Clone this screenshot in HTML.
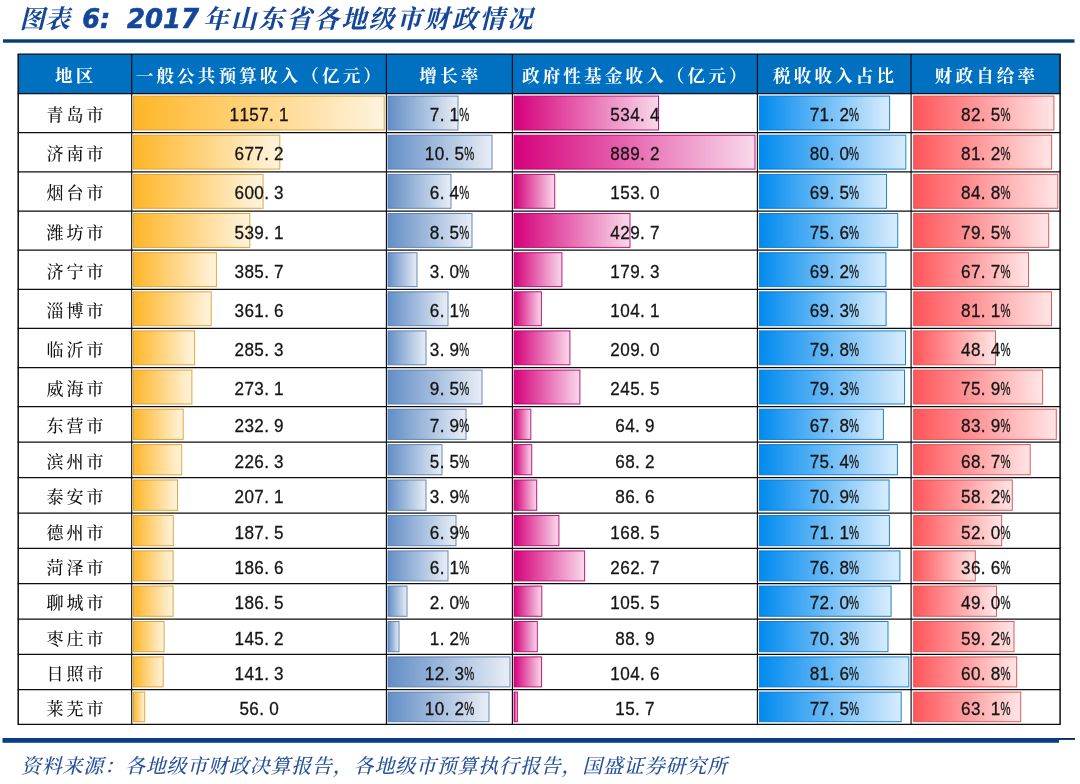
<!DOCTYPE html>
<html lang="zh-CN"><head><meta charset="utf-8"><title>图表 6: 2017 年山东省各地级市财政情况</title>
<style>
html,body{margin:0;padding:0;background:#fff}
body{width:1080px;height:784px;overflow:hidden}
svg{display:block}
.kai{font-family:"Liberation Serif","Noto Serif CJK SC",serif}
.num{font-family:"Liberation Sans","Noto Sans CJK SC",sans-serif;font-size:18.2px;fill:#151515;stroke:#151515;stroke-width:0.3px}
.hd{font-family:"Liberation Serif","Noto Serif CJK SC",serif;font-weight:700;font-size:17.6px;fill:#fff;letter-spacing:3.1px}
.rg{font-family:"Liberation Serif","Noto Serif CJK SC",serif;font-weight:500;font-size:17px;fill:#111;letter-spacing:3px}
</style></head><body>
<svg width="1080" height="784" viewBox="0 0 1080 784">
<defs>
<linearGradient id="go" x1="0" y1="0" x2="1" y2="0"><stop offset="0" stop-color="#FFB628"/><stop offset="1" stop-color="#fff4df"/></linearGradient>
<linearGradient id="gb" x1="0" y1="0" x2="1" y2="0"><stop offset="0" stop-color="#638EC6"/><stop offset="1" stop-color="#e8eef6"/></linearGradient>
<linearGradient id="gp" x1="0" y1="0" x2="1" y2="0"><stop offset="0" stop-color="#D6007B"/><stop offset="1" stop-color="#f9d9eb"/></linearGradient>
<linearGradient id="gl" x1="0" y1="0" x2="1" y2="0"><stop offset="0" stop-color="#008AEF"/><stop offset="1" stop-color="#d9edfd"/></linearGradient>
<linearGradient id="gr" x1="0" y1="0" x2="1" y2="0"><stop offset="0" stop-color="#FF555A"/><stop offset="1" stop-color="#ffe6e6"/></linearGradient>
</defs>
<rect x="0" y="0" width="1080" height="784" fill="#fff"/>
<g fill="#14479a" font-style="italic" font-weight="700">
<text x="19.5" y="28.2" font-size="25.5" font-family="'Liberation Serif','Noto Serif CJK SC',serif" textLength="50.5" lengthAdjust="spacingAndGlyphs">图表</text>
<text x="82.3" y="28.0" font-size="26.4" stroke="#14479a" stroke-width="0.6" font-family="'DejaVu Sans','Liberation Sans',sans-serif" textLength="28" lengthAdjust="spacingAndGlyphs">6:</text>
<text x="127" y="28.0" font-size="26.4" stroke="#14479a" stroke-width="0.6" font-family="'DejaVu Sans','Liberation Sans',sans-serif" textLength="72" lengthAdjust="spacingAndGlyphs">2017</text>
<text x="203" y="28.2" font-size="25.5" font-family="'Liberation Serif','Noto Serif CJK SC',serif" textLength="329.5" lengthAdjust="spacing">年山东省各地级市财政情况</text>
</g>
<rect x="3" y="39.3" width="1071.5" height="3.4" fill="#083a7a"/>
<rect x="18.2" y="54.1" width="1041.8999999999999" height="39.49999999999999" fill="#0070C0"/>
<text class="hd" x="75.8" y="81.8" text-anchor="middle">地区</text>
<text class="hd" x="259.9" y="81.8" text-anchor="middle">一般公共预算收入（亿元）</text>
<text class="hd" x="450.3" y="81.8" text-anchor="middle">增长率</text>
<text class="hd" x="635.8" y="81.8" text-anchor="middle">政府性基金收入（亿元）</text>
<text class="hd" x="835.1" y="81.8" text-anchor="middle">税收收入占比</text>
<text class="hd" x="986.5" y="81.8" text-anchor="middle">财政自给率</text>
<rect x="133.5" y="96.1" width="250.7" height="33.9" fill="url(#go)" stroke="#de9e23" stroke-opacity="0.9" stroke-width="1"/>
<rect x="388.0" y="96.1" width="70.0" height="33.9" fill="url(#gb)" stroke="#567cac" stroke-opacity="0.9" stroke-width="1"/>
<rect x="514.1" y="96.1" width="144.4" height="33.9" fill="url(#gp)" stroke="#ba006b" stroke-opacity="0.9" stroke-width="1"/>
<rect x="759.4" y="96.1" width="130.2" height="33.9" fill="url(#gl)" stroke="#0078d0" stroke-opacity="0.9" stroke-width="1"/>
<rect x="913.7" y="96.1" width="140.2" height="33.9" fill="url(#gr)" stroke="#de4a4e" stroke-opacity="0.9" stroke-width="1"/>
<rect x="133.5" y="135.2" width="146.3" height="33.9" fill="url(#go)" stroke="#de9e23" stroke-opacity="0.9" stroke-width="1"/>
<rect x="388.0" y="135.2" width="104.0" height="33.9" fill="url(#gb)" stroke="#567cac" stroke-opacity="0.9" stroke-width="1"/>
<rect x="514.1" y="135.2" width="240.9" height="33.9" fill="url(#gp)" stroke="#ba006b" stroke-opacity="0.9" stroke-width="1"/>
<rect x="759.4" y="135.2" width="146.4" height="33.9" fill="url(#gl)" stroke="#0078d0" stroke-opacity="0.9" stroke-width="1"/>
<rect x="913.7" y="135.2" width="137.9" height="33.9" fill="url(#gr)" stroke="#de4a4e" stroke-opacity="0.9" stroke-width="1"/>
<rect x="133.5" y="174.4" width="129.6" height="33.9" fill="url(#go)" stroke="#de9e23" stroke-opacity="0.9" stroke-width="1"/>
<rect x="388.0" y="174.4" width="63.0" height="33.9" fill="url(#gb)" stroke="#567cac" stroke-opacity="0.9" stroke-width="1"/>
<rect x="514.1" y="174.4" width="40.6" height="33.9" fill="url(#gp)" stroke="#ba006b" stroke-opacity="0.9" stroke-width="1"/>
<rect x="759.4" y="174.4" width="127.1" height="33.9" fill="url(#gl)" stroke="#0078d0" stroke-opacity="0.9" stroke-width="1"/>
<rect x="913.7" y="174.4" width="144.1" height="33.9" fill="url(#gr)" stroke="#de4a4e" stroke-opacity="0.9" stroke-width="1"/>
<rect x="133.5" y="213.5" width="116.3" height="33.9" fill="url(#go)" stroke="#de9e23" stroke-opacity="0.9" stroke-width="1"/>
<rect x="388.0" y="213.5" width="84.0" height="33.9" fill="url(#gb)" stroke="#567cac" stroke-opacity="0.9" stroke-width="1"/>
<rect x="514.1" y="213.5" width="115.9" height="33.9" fill="url(#gp)" stroke="#ba006b" stroke-opacity="0.9" stroke-width="1"/>
<rect x="759.4" y="213.5" width="138.3" height="33.9" fill="url(#gl)" stroke="#0078d0" stroke-opacity="0.9" stroke-width="1"/>
<rect x="913.7" y="213.5" width="135.0" height="33.9" fill="url(#gr)" stroke="#de4a4e" stroke-opacity="0.9" stroke-width="1"/>
<rect x="133.5" y="252.7" width="82.9" height="33.9" fill="url(#go)" stroke="#de9e23" stroke-opacity="0.9" stroke-width="1"/>
<rect x="388.0" y="252.7" width="29.0" height="33.9" fill="url(#gb)" stroke="#567cac" stroke-opacity="0.9" stroke-width="1"/>
<rect x="514.1" y="252.7" width="47.8" height="33.9" fill="url(#gp)" stroke="#ba006b" stroke-opacity="0.9" stroke-width="1"/>
<rect x="759.4" y="252.7" width="126.5" height="33.9" fill="url(#gl)" stroke="#0078d0" stroke-opacity="0.9" stroke-width="1"/>
<rect x="913.7" y="252.7" width="114.8" height="33.9" fill="url(#gr)" stroke="#de4a4e" stroke-opacity="0.9" stroke-width="1"/>
<rect x="133.5" y="291.8" width="77.7" height="33.9" fill="url(#go)" stroke="#de9e23" stroke-opacity="0.9" stroke-width="1"/>
<rect x="388.0" y="291.8" width="60.0" height="33.9" fill="url(#gb)" stroke="#567cac" stroke-opacity="0.9" stroke-width="1"/>
<rect x="514.1" y="291.8" width="27.3" height="33.9" fill="url(#gp)" stroke="#ba006b" stroke-opacity="0.9" stroke-width="1"/>
<rect x="759.4" y="291.8" width="126.7" height="33.9" fill="url(#gl)" stroke="#0078d0" stroke-opacity="0.9" stroke-width="1"/>
<rect x="913.7" y="291.8" width="137.8" height="33.9" fill="url(#gr)" stroke="#de4a4e" stroke-opacity="0.9" stroke-width="1"/>
<rect x="133.5" y="330.9" width="61.1" height="33.9" fill="url(#go)" stroke="#de9e23" stroke-opacity="0.9" stroke-width="1"/>
<rect x="388.0" y="330.9" width="38.0" height="33.9" fill="url(#gb)" stroke="#567cac" stroke-opacity="0.9" stroke-width="1"/>
<rect x="514.1" y="330.9" width="55.8" height="33.9" fill="url(#gp)" stroke="#ba006b" stroke-opacity="0.9" stroke-width="1"/>
<rect x="759.4" y="330.9" width="146.1" height="33.9" fill="url(#gl)" stroke="#0078d0" stroke-opacity="0.9" stroke-width="1"/>
<rect x="913.7" y="330.9" width="81.8" height="33.9" fill="url(#gr)" stroke="#de4a4e" stroke-opacity="0.9" stroke-width="1"/>
<rect x="133.5" y="370.1" width="58.4" height="33.9" fill="url(#go)" stroke="#de9e23" stroke-opacity="0.9" stroke-width="1"/>
<rect x="388.0" y="370.1" width="94.0" height="33.9" fill="url(#gb)" stroke="#567cac" stroke-opacity="0.9" stroke-width="1"/>
<rect x="514.1" y="370.1" width="65.8" height="33.9" fill="url(#gp)" stroke="#ba006b" stroke-opacity="0.9" stroke-width="1"/>
<rect x="759.4" y="370.1" width="145.1" height="33.9" fill="url(#gl)" stroke="#0078d0" stroke-opacity="0.9" stroke-width="1"/>
<rect x="913.7" y="370.1" width="128.9" height="33.9" fill="url(#gr)" stroke="#de4a4e" stroke-opacity="0.9" stroke-width="1"/>
<rect x="133.5" y="409.2" width="49.7" height="30.2" fill="url(#go)" stroke="#de9e23" stroke-opacity="0.9" stroke-width="1"/>
<rect x="388.0" y="409.2" width="78.0" height="30.2" fill="url(#gb)" stroke="#567cac" stroke-opacity="0.9" stroke-width="1"/>
<rect x="514.1" y="409.2" width="16.7" height="30.2" fill="url(#gp)" stroke="#ba006b" stroke-opacity="0.9" stroke-width="1"/>
<rect x="759.4" y="409.2" width="124.0" height="30.2" fill="url(#gl)" stroke="#0078d0" stroke-opacity="0.9" stroke-width="1"/>
<rect x="913.7" y="409.2" width="142.6" height="30.2" fill="url(#gr)" stroke="#de4a4e" stroke-opacity="0.9" stroke-width="1"/>
<rect x="133.5" y="444.6" width="48.2" height="30.2" fill="url(#go)" stroke="#de9e23" stroke-opacity="0.9" stroke-width="1"/>
<rect x="388.0" y="444.6" width="54.0" height="30.2" fill="url(#gb)" stroke="#567cac" stroke-opacity="0.9" stroke-width="1"/>
<rect x="514.1" y="444.6" width="17.6" height="30.2" fill="url(#gp)" stroke="#ba006b" stroke-opacity="0.9" stroke-width="1"/>
<rect x="759.4" y="444.6" width="138.0" height="30.2" fill="url(#gl)" stroke="#0078d0" stroke-opacity="0.9" stroke-width="1"/>
<rect x="913.7" y="444.6" width="116.5" height="30.2" fill="url(#gr)" stroke="#de4a4e" stroke-opacity="0.9" stroke-width="1"/>
<rect x="133.5" y="480.0" width="44.0" height="30.3" fill="url(#go)" stroke="#de9e23" stroke-opacity="0.9" stroke-width="1"/>
<rect x="388.0" y="480.0" width="38.0" height="30.3" fill="url(#gb)" stroke="#567cac" stroke-opacity="0.9" stroke-width="1"/>
<rect x="514.1" y="480.0" width="22.6" height="30.3" fill="url(#gp)" stroke="#ba006b" stroke-opacity="0.9" stroke-width="1"/>
<rect x="759.4" y="480.0" width="129.7" height="30.3" fill="url(#gl)" stroke="#0078d0" stroke-opacity="0.9" stroke-width="1"/>
<rect x="913.7" y="480.0" width="98.6" height="30.3" fill="url(#gr)" stroke="#de4a4e" stroke-opacity="0.9" stroke-width="1"/>
<rect x="133.5" y="515.5" width="39.8" height="30.2" fill="url(#go)" stroke="#de9e23" stroke-opacity="0.9" stroke-width="1"/>
<rect x="388.0" y="515.5" width="68.0" height="30.2" fill="url(#gb)" stroke="#567cac" stroke-opacity="0.9" stroke-width="1"/>
<rect x="514.1" y="515.5" width="44.8" height="30.2" fill="url(#gp)" stroke="#ba006b" stroke-opacity="0.9" stroke-width="1"/>
<rect x="759.4" y="515.5" width="130.0" height="30.2" fill="url(#gl)" stroke="#0078d0" stroke-opacity="0.9" stroke-width="1"/>
<rect x="913.7" y="515.5" width="88.0" height="30.2" fill="url(#gr)" stroke="#de4a4e" stroke-opacity="0.9" stroke-width="1"/>
<rect x="133.5" y="550.9" width="39.6" height="30.0" fill="url(#go)" stroke="#de9e23" stroke-opacity="0.9" stroke-width="1"/>
<rect x="388.0" y="550.9" width="60.0" height="30.0" fill="url(#gb)" stroke="#567cac" stroke-opacity="0.9" stroke-width="1"/>
<rect x="514.1" y="550.9" width="70.5" height="30.0" fill="url(#gp)" stroke="#ba006b" stroke-opacity="0.9" stroke-width="1"/>
<rect x="759.4" y="550.9" width="140.5" height="30.0" fill="url(#gl)" stroke="#0078d0" stroke-opacity="0.9" stroke-width="1"/>
<rect x="913.7" y="550.9" width="61.6" height="30.0" fill="url(#gr)" stroke="#de4a4e" stroke-opacity="0.9" stroke-width="1"/>
<rect x="133.5" y="586.1" width="39.6" height="30.2" fill="url(#go)" stroke="#de9e23" stroke-opacity="0.9" stroke-width="1"/>
<rect x="388.0" y="586.1" width="19.0" height="30.2" fill="url(#gb)" stroke="#567cac" stroke-opacity="0.9" stroke-width="1"/>
<rect x="514.1" y="586.1" width="27.7" height="30.2" fill="url(#gp)" stroke="#ba006b" stroke-opacity="0.9" stroke-width="1"/>
<rect x="759.4" y="586.1" width="131.7" height="30.2" fill="url(#gl)" stroke="#0078d0" stroke-opacity="0.9" stroke-width="1"/>
<rect x="913.7" y="586.1" width="82.8" height="30.2" fill="url(#gr)" stroke="#de4a4e" stroke-opacity="0.9" stroke-width="1"/>
<rect x="133.5" y="621.5" width="30.6" height="30.2" fill="url(#go)" stroke="#de9e23" stroke-opacity="0.9" stroke-width="1"/>
<rect x="388.0" y="621.5" width="11.0" height="30.2" fill="url(#gb)" stroke="#567cac" stroke-opacity="0.9" stroke-width="1"/>
<rect x="514.1" y="621.5" width="23.2" height="30.2" fill="url(#gp)" stroke="#ba006b" stroke-opacity="0.9" stroke-width="1"/>
<rect x="759.4" y="621.5" width="128.6" height="30.2" fill="url(#gl)" stroke="#0078d0" stroke-opacity="0.9" stroke-width="1"/>
<rect x="913.7" y="621.5" width="100.3" height="30.2" fill="url(#gr)" stroke="#de4a4e" stroke-opacity="0.9" stroke-width="1"/>
<rect x="133.5" y="656.9" width="29.7" height="30.0" fill="url(#go)" stroke="#de9e23" stroke-opacity="0.9" stroke-width="1"/>
<rect x="388.0" y="656.9" width="122.0" height="30.0" fill="url(#gb)" stroke="#567cac" stroke-opacity="0.9" stroke-width="1"/>
<rect x="514.1" y="656.9" width="27.5" height="30.0" fill="url(#gp)" stroke="#ba006b" stroke-opacity="0.9" stroke-width="1"/>
<rect x="759.4" y="656.9" width="149.4" height="30.0" fill="url(#gl)" stroke="#0078d0" stroke-opacity="0.9" stroke-width="1"/>
<rect x="913.7" y="656.9" width="103.0" height="30.0" fill="url(#gr)" stroke="#de4a4e" stroke-opacity="0.9" stroke-width="1"/>
<rect x="133.5" y="692.1" width="11.2" height="29.6" fill="url(#go)" stroke="#de9e23" stroke-opacity="0.9" stroke-width="1"/>
<rect x="388.0" y="692.1" width="101.0" height="29.6" fill="url(#gb)" stroke="#567cac" stroke-opacity="0.9" stroke-width="1"/>
<rect x="514.1" y="692.1" width="3.3" height="29.6" fill="url(#gp)" stroke="#ba006b" stroke-opacity="0.9" stroke-width="1"/>
<rect x="759.4" y="692.1" width="141.8" height="29.6" fill="url(#gl)" stroke="#0078d0" stroke-opacity="0.9" stroke-width="1"/>
<rect x="913.7" y="692.1" width="107.0" height="29.6" fill="url(#gr)" stroke="#de4a4e" stroke-opacity="0.9" stroke-width="1"/>
<g stroke="#0c0c12" stroke-width="1.25" fill="none">
<line x1="17.7" y1="54.10" x2="1060.6" y2="54.10"/>
<line x1="17.7" y1="93.60" x2="1060.6" y2="93.60"/>
<line x1="17.7" y1="132.74" x2="1060.6" y2="132.74"/>
<line x1="17.7" y1="171.88" x2="1060.6" y2="171.88"/>
<line x1="17.7" y1="211.02" x2="1060.6" y2="211.02"/>
<line x1="17.7" y1="250.16" x2="1060.6" y2="250.16"/>
<line x1="17.7" y1="289.30" x2="1060.6" y2="289.30"/>
<line x1="17.7" y1="328.44" x2="1060.6" y2="328.44"/>
<line x1="17.7" y1="367.58" x2="1060.6" y2="367.58"/>
<line x1="17.7" y1="406.72" x2="1060.6" y2="406.72"/>
<line x1="17.7" y1="442.10" x2="1060.6" y2="442.10"/>
<line x1="17.7" y1="477.50" x2="1060.6" y2="477.50"/>
<line x1="17.7" y1="513.00" x2="1060.6" y2="513.00"/>
<line x1="17.7" y1="548.40" x2="1060.6" y2="548.40"/>
<line x1="17.7" y1="583.60" x2="1060.6" y2="583.60"/>
<line x1="17.7" y1="619.00" x2="1060.6" y2="619.00"/>
<line x1="17.7" y1="654.40" x2="1060.6" y2="654.40"/>
<line x1="17.7" y1="689.60" x2="1060.6" y2="689.60"/>
<line x1="17.7" y1="724.40" x2="1060.6" y2="724.40"/>
</g>
<g stroke="#0c0c12" fill="none">
<line x1="18.2" y1="54.1" x2="18.2" y2="724.40" stroke-width="1.5"/>
<line x1="131.7" y1="54.1" x2="131.7" y2="724.40" stroke-width="1.15"/>
<line x1="386.4" y1="54.1" x2="386.4" y2="724.40" stroke-width="1.15"/>
<line x1="512.4" y1="54.1" x2="512.4" y2="724.40" stroke-width="1.15"/>
<line x1="757.4" y1="54.1" x2="757.4" y2="724.40" stroke-width="1.15"/>
<line x1="911.1" y1="54.1" x2="911.1" y2="724.40" stroke-width="1.15"/>
<line x1="1060.1" y1="54.1" x2="1060.1" y2="724.40" stroke-width="1.5"/>
</g>
<text class="rg" x="76.4" y="121.2" text-anchor="middle">青岛市</text>
<text class="num" transform="translate(259.05,121.1) scale(0.94,1)" x="-26.33 -15.80 -5.27 5.27 13.24 26.33" y="0" text-anchor="middle">1157.1</text>
<text class="num" transform="translate(449.40,121.1) scale(0.94,1)" x="-15.80 -7.82 5.27" y="0" text-anchor="middle">7.1</text><text class="num" transform="translate(464.25,121.1) scale(0.62,1)" x="0" y="0" text-anchor="middle">%</text>
<text class="num" transform="translate(634.90,121.1) scale(0.94,1)" x="-21.06 -10.53 0.00 7.98 21.06" y="0" text-anchor="middle">534.4</text>
<text class="num" transform="translate(834.25,121.1) scale(0.94,1)" x="-21.06 -10.53 -2.55 10.53" y="0" text-anchor="middle">71.2</text><text class="num" transform="translate(854.05,121.1) scale(0.62,1)" x="0" y="0" text-anchor="middle">%</text>
<text class="num" transform="translate(985.60,121.1) scale(0.94,1)" x="-21.06 -10.53 -2.55 10.53" y="0" text-anchor="middle">82.5</text><text class="num" transform="translate(1005.40,121.1) scale(0.62,1)" x="0" y="0" text-anchor="middle">%</text>
<text class="rg" x="76.4" y="160.3" text-anchor="middle">济南市</text>
<text class="num" transform="translate(259.05,160.2) scale(0.94,1)" x="-21.06 -10.53 0.00 7.98 21.06" y="0" text-anchor="middle">677.2</text>
<text class="num" transform="translate(449.40,160.2) scale(0.94,1)" x="-21.06 -10.53 -2.55 10.53" y="0" text-anchor="middle">10.5</text><text class="num" transform="translate(469.20,160.2) scale(0.62,1)" x="0" y="0" text-anchor="middle">%</text>
<text class="num" transform="translate(634.90,160.2) scale(0.94,1)" x="-21.06 -10.53 0.00 7.98 21.06" y="0" text-anchor="middle">889.2</text>
<text class="num" transform="translate(834.25,160.2) scale(0.94,1)" x="-21.06 -10.53 -2.55 10.53" y="0" text-anchor="middle">80.0</text><text class="num" transform="translate(854.05,160.2) scale(0.62,1)" x="0" y="0" text-anchor="middle">%</text>
<text class="num" transform="translate(985.60,160.2) scale(0.94,1)" x="-21.06 -10.53 -2.55 10.53" y="0" text-anchor="middle">81.2</text><text class="num" transform="translate(1005.40,160.2) scale(0.62,1)" x="0" y="0" text-anchor="middle">%</text>
<text class="rg" x="76.4" y="199.4" text-anchor="middle">烟台市</text>
<text class="num" transform="translate(259.05,199.3) scale(0.94,1)" x="-21.06 -10.53 0.00 7.98 21.06" y="0" text-anchor="middle">600.3</text>
<text class="num" transform="translate(449.40,199.3) scale(0.94,1)" x="-15.80 -7.82 5.27" y="0" text-anchor="middle">6.4</text><text class="num" transform="translate(464.25,199.3) scale(0.62,1)" x="0" y="0" text-anchor="middle">%</text>
<text class="num" transform="translate(634.90,199.3) scale(0.94,1)" x="-21.06 -10.53 0.00 7.98 21.06" y="0" text-anchor="middle">153.0</text>
<text class="num" transform="translate(834.25,199.3) scale(0.94,1)" x="-21.06 -10.53 -2.55 10.53" y="0" text-anchor="middle">69.5</text><text class="num" transform="translate(854.05,199.3) scale(0.62,1)" x="0" y="0" text-anchor="middle">%</text>
<text class="num" transform="translate(985.60,199.3) scale(0.94,1)" x="-21.06 -10.53 -2.55 10.53" y="0" text-anchor="middle">84.8</text><text class="num" transform="translate(1005.40,199.3) scale(0.62,1)" x="0" y="0" text-anchor="middle">%</text>
<text class="rg" x="76.4" y="238.6" text-anchor="middle">潍坊市</text>
<text class="num" transform="translate(259.05,238.5) scale(0.94,1)" x="-21.06 -10.53 0.00 7.98 21.06" y="0" text-anchor="middle">539.1</text>
<text class="num" transform="translate(449.40,238.5) scale(0.94,1)" x="-15.80 -7.82 5.27" y="0" text-anchor="middle">8.5</text><text class="num" transform="translate(464.25,238.5) scale(0.62,1)" x="0" y="0" text-anchor="middle">%</text>
<text class="num" transform="translate(634.90,238.5) scale(0.94,1)" x="-21.06 -10.53 0.00 7.98 21.06" y="0" text-anchor="middle">429.7</text>
<text class="num" transform="translate(834.25,238.5) scale(0.94,1)" x="-21.06 -10.53 -2.55 10.53" y="0" text-anchor="middle">75.6</text><text class="num" transform="translate(854.05,238.5) scale(0.62,1)" x="0" y="0" text-anchor="middle">%</text>
<text class="num" transform="translate(985.60,238.5) scale(0.94,1)" x="-21.06 -10.53 -2.55 10.53" y="0" text-anchor="middle">79.5</text><text class="num" transform="translate(1005.40,238.5) scale(0.62,1)" x="0" y="0" text-anchor="middle">%</text>
<text class="rg" x="76.4" y="277.7" text-anchor="middle">济宁市</text>
<text class="num" transform="translate(259.05,277.6) scale(0.94,1)" x="-21.06 -10.53 0.00 7.98 21.06" y="0" text-anchor="middle">385.7</text>
<text class="num" transform="translate(449.40,277.6) scale(0.94,1)" x="-15.80 -7.82 5.27" y="0" text-anchor="middle">3.0</text><text class="num" transform="translate(464.25,277.6) scale(0.62,1)" x="0" y="0" text-anchor="middle">%</text>
<text class="num" transform="translate(634.90,277.6) scale(0.94,1)" x="-21.06 -10.53 0.00 7.98 21.06" y="0" text-anchor="middle">179.3</text>
<text class="num" transform="translate(834.25,277.6) scale(0.94,1)" x="-21.06 -10.53 -2.55 10.53" y="0" text-anchor="middle">69.2</text><text class="num" transform="translate(854.05,277.6) scale(0.62,1)" x="0" y="0" text-anchor="middle">%</text>
<text class="num" transform="translate(985.60,277.6) scale(0.94,1)" x="-21.06 -10.53 -2.55 10.53" y="0" text-anchor="middle">67.7</text><text class="num" transform="translate(1005.40,277.6) scale(0.62,1)" x="0" y="0" text-anchor="middle">%</text>
<text class="rg" x="76.4" y="316.9" text-anchor="middle">淄博市</text>
<text class="num" transform="translate(259.05,316.8) scale(0.94,1)" x="-21.06 -10.53 0.00 7.98 21.06" y="0" text-anchor="middle">361.6</text>
<text class="num" transform="translate(449.40,316.8) scale(0.94,1)" x="-15.80 -7.82 5.27" y="0" text-anchor="middle">6.1</text><text class="num" transform="translate(464.25,316.8) scale(0.62,1)" x="0" y="0" text-anchor="middle">%</text>
<text class="num" transform="translate(634.90,316.8) scale(0.94,1)" x="-21.06 -10.53 0.00 7.98 21.06" y="0" text-anchor="middle">104.1</text>
<text class="num" transform="translate(834.25,316.8) scale(0.94,1)" x="-21.06 -10.53 -2.55 10.53" y="0" text-anchor="middle">69.3</text><text class="num" transform="translate(854.05,316.8) scale(0.62,1)" x="0" y="0" text-anchor="middle">%</text>
<text class="num" transform="translate(985.60,316.8) scale(0.94,1)" x="-21.06 -10.53 -2.55 10.53" y="0" text-anchor="middle">81.1</text><text class="num" transform="translate(1005.40,316.8) scale(0.62,1)" x="0" y="0" text-anchor="middle">%</text>
<text class="rg" x="76.4" y="356.0" text-anchor="middle">临沂市</text>
<text class="num" transform="translate(259.05,355.9) scale(0.94,1)" x="-21.06 -10.53 0.00 7.98 21.06" y="0" text-anchor="middle">285.3</text>
<text class="num" transform="translate(449.40,355.9) scale(0.94,1)" x="-15.80 -7.82 5.27" y="0" text-anchor="middle">3.9</text><text class="num" transform="translate(464.25,355.9) scale(0.62,1)" x="0" y="0" text-anchor="middle">%</text>
<text class="num" transform="translate(634.90,355.9) scale(0.94,1)" x="-21.06 -10.53 0.00 7.98 21.06" y="0" text-anchor="middle">209.0</text>
<text class="num" transform="translate(834.25,355.9) scale(0.94,1)" x="-21.06 -10.53 -2.55 10.53" y="0" text-anchor="middle">79.8</text><text class="num" transform="translate(854.05,355.9) scale(0.62,1)" x="0" y="0" text-anchor="middle">%</text>
<text class="num" transform="translate(985.60,355.9) scale(0.94,1)" x="-21.06 -10.53 -2.55 10.53" y="0" text-anchor="middle">48.4</text><text class="num" transform="translate(1005.40,355.9) scale(0.62,1)" x="0" y="0" text-anchor="middle">%</text>
<text class="rg" x="76.4" y="395.2" text-anchor="middle">威海市</text>
<text class="num" transform="translate(259.05,395.1) scale(0.94,1)" x="-21.06 -10.53 0.00 7.98 21.06" y="0" text-anchor="middle">273.1</text>
<text class="num" transform="translate(449.40,395.1) scale(0.94,1)" x="-15.80 -7.82 5.27" y="0" text-anchor="middle">9.5</text><text class="num" transform="translate(464.25,395.1) scale(0.62,1)" x="0" y="0" text-anchor="middle">%</text>
<text class="num" transform="translate(634.90,395.1) scale(0.94,1)" x="-21.06 -10.53 0.00 7.98 21.06" y="0" text-anchor="middle">245.5</text>
<text class="num" transform="translate(834.25,395.1) scale(0.94,1)" x="-21.06 -10.53 -2.55 10.53" y="0" text-anchor="middle">79.3</text><text class="num" transform="translate(854.05,395.1) scale(0.62,1)" x="0" y="0" text-anchor="middle">%</text>
<text class="num" transform="translate(985.60,395.1) scale(0.94,1)" x="-21.06 -10.53 -2.55 10.53" y="0" text-anchor="middle">75.9</text><text class="num" transform="translate(1005.40,395.1) scale(0.62,1)" x="0" y="0" text-anchor="middle">%</text>
<text class="rg" x="76.4" y="432.4" text-anchor="middle">东营市</text>
<text class="num" transform="translate(259.05,432.3) scale(0.94,1)" x="-21.06 -10.53 0.00 7.98 21.06" y="0" text-anchor="middle">232.9</text>
<text class="num" transform="translate(449.40,432.3) scale(0.94,1)" x="-15.80 -7.82 5.27" y="0" text-anchor="middle">7.9</text><text class="num" transform="translate(464.25,432.3) scale(0.62,1)" x="0" y="0" text-anchor="middle">%</text>
<text class="num" transform="translate(634.90,432.3) scale(0.94,1)" x="-15.80 -5.27 2.71 15.80" y="0" text-anchor="middle">64.9</text>
<text class="num" transform="translate(834.25,432.3) scale(0.94,1)" x="-21.06 -10.53 -2.55 10.53" y="0" text-anchor="middle">67.8</text><text class="num" transform="translate(854.05,432.3) scale(0.62,1)" x="0" y="0" text-anchor="middle">%</text>
<text class="num" transform="translate(985.60,432.3) scale(0.94,1)" x="-21.06 -10.53 -2.55 10.53" y="0" text-anchor="middle">83.9</text><text class="num" transform="translate(1005.40,432.3) scale(0.62,1)" x="0" y="0" text-anchor="middle">%</text>
<text class="rg" x="76.4" y="467.8" text-anchor="middle">滨州市</text>
<text class="num" transform="translate(259.05,467.7) scale(0.94,1)" x="-21.06 -10.53 0.00 7.98 21.06" y="0" text-anchor="middle">226.3</text>
<text class="num" transform="translate(449.40,467.7) scale(0.94,1)" x="-15.80 -7.82 5.27" y="0" text-anchor="middle">5.5</text><text class="num" transform="translate(464.25,467.7) scale(0.62,1)" x="0" y="0" text-anchor="middle">%</text>
<text class="num" transform="translate(634.90,467.7) scale(0.94,1)" x="-15.80 -5.27 2.71 15.80" y="0" text-anchor="middle">68.2</text>
<text class="num" transform="translate(834.25,467.7) scale(0.94,1)" x="-21.06 -10.53 -2.55 10.53" y="0" text-anchor="middle">75.4</text><text class="num" transform="translate(854.05,467.7) scale(0.62,1)" x="0" y="0" text-anchor="middle">%</text>
<text class="num" transform="translate(985.60,467.7) scale(0.94,1)" x="-21.06 -10.53 -2.55 10.53" y="0" text-anchor="middle">68.7</text><text class="num" transform="translate(1005.40,467.7) scale(0.62,1)" x="0" y="0" text-anchor="middle">%</text>
<text class="rg" x="76.4" y="503.2" text-anchor="middle">泰安市</text>
<text class="num" transform="translate(259.05,503.1) scale(0.94,1)" x="-21.06 -10.53 0.00 7.98 21.06" y="0" text-anchor="middle">207.1</text>
<text class="num" transform="translate(449.40,503.1) scale(0.94,1)" x="-15.80 -7.82 5.27" y="0" text-anchor="middle">3.9</text><text class="num" transform="translate(464.25,503.1) scale(0.62,1)" x="0" y="0" text-anchor="middle">%</text>
<text class="num" transform="translate(634.90,503.1) scale(0.94,1)" x="-15.80 -5.27 2.71 15.80" y="0" text-anchor="middle">86.6</text>
<text class="num" transform="translate(834.25,503.1) scale(0.94,1)" x="-21.06 -10.53 -2.55 10.53" y="0" text-anchor="middle">70.9</text><text class="num" transform="translate(854.05,503.1) scale(0.62,1)" x="0" y="0" text-anchor="middle">%</text>
<text class="num" transform="translate(985.60,503.1) scale(0.94,1)" x="-21.06 -10.53 -2.55 10.53" y="0" text-anchor="middle">58.2</text><text class="num" transform="translate(1005.40,503.1) scale(0.62,1)" x="0" y="0" text-anchor="middle">%</text>
<text class="rg" x="76.4" y="538.7" text-anchor="middle">德州市</text>
<text class="num" transform="translate(259.05,538.6) scale(0.94,1)" x="-21.06 -10.53 0.00 7.98 21.06" y="0" text-anchor="middle">187.5</text>
<text class="num" transform="translate(449.40,538.6) scale(0.94,1)" x="-15.80 -7.82 5.27" y="0" text-anchor="middle">6.9</text><text class="num" transform="translate(464.25,538.6) scale(0.62,1)" x="0" y="0" text-anchor="middle">%</text>
<text class="num" transform="translate(634.90,538.6) scale(0.94,1)" x="-21.06 -10.53 0.00 7.98 21.06" y="0" text-anchor="middle">168.5</text>
<text class="num" transform="translate(834.25,538.6) scale(0.94,1)" x="-21.06 -10.53 -2.55 10.53" y="0" text-anchor="middle">71.1</text><text class="num" transform="translate(854.05,538.6) scale(0.62,1)" x="0" y="0" text-anchor="middle">%</text>
<text class="num" transform="translate(985.60,538.6) scale(0.94,1)" x="-21.06 -10.53 -2.55 10.53" y="0" text-anchor="middle">52.0</text><text class="num" transform="translate(1005.40,538.6) scale(0.62,1)" x="0" y="0" text-anchor="middle">%</text>
<text class="rg" x="76.4" y="574.0" text-anchor="middle">菏泽市</text>
<text class="num" transform="translate(259.05,573.9) scale(0.94,1)" x="-21.06 -10.53 0.00 7.98 21.06" y="0" text-anchor="middle">186.6</text>
<text class="num" transform="translate(449.40,573.9) scale(0.94,1)" x="-15.80 -7.82 5.27" y="0" text-anchor="middle">6.1</text><text class="num" transform="translate(464.25,573.9) scale(0.62,1)" x="0" y="0" text-anchor="middle">%</text>
<text class="num" transform="translate(634.90,573.9) scale(0.94,1)" x="-21.06 -10.53 0.00 7.98 21.06" y="0" text-anchor="middle">262.7</text>
<text class="num" transform="translate(834.25,573.9) scale(0.94,1)" x="-21.06 -10.53 -2.55 10.53" y="0" text-anchor="middle">76.8</text><text class="num" transform="translate(854.05,573.9) scale(0.62,1)" x="0" y="0" text-anchor="middle">%</text>
<text class="num" transform="translate(985.60,573.9) scale(0.94,1)" x="-21.06 -10.53 -2.55 10.53" y="0" text-anchor="middle">36.6</text><text class="num" transform="translate(1005.40,573.9) scale(0.62,1)" x="0" y="0" text-anchor="middle">%</text>
<text class="rg" x="76.4" y="609.3" text-anchor="middle">聊城市</text>
<text class="num" transform="translate(259.05,609.2) scale(0.94,1)" x="-21.06 -10.53 0.00 7.98 21.06" y="0" text-anchor="middle">186.5</text>
<text class="num" transform="translate(449.40,609.2) scale(0.94,1)" x="-15.80 -7.82 5.27" y="0" text-anchor="middle">2.0</text><text class="num" transform="translate(464.25,609.2) scale(0.62,1)" x="0" y="0" text-anchor="middle">%</text>
<text class="num" transform="translate(634.90,609.2) scale(0.94,1)" x="-21.06 -10.53 0.00 7.98 21.06" y="0" text-anchor="middle">105.5</text>
<text class="num" transform="translate(834.25,609.2) scale(0.94,1)" x="-21.06 -10.53 -2.55 10.53" y="0" text-anchor="middle">72.0</text><text class="num" transform="translate(854.05,609.2) scale(0.62,1)" x="0" y="0" text-anchor="middle">%</text>
<text class="num" transform="translate(985.60,609.2) scale(0.94,1)" x="-21.06 -10.53 -2.55 10.53" y="0" text-anchor="middle">49.0</text><text class="num" transform="translate(1005.40,609.2) scale(0.62,1)" x="0" y="0" text-anchor="middle">%</text>
<text class="rg" x="76.4" y="644.7" text-anchor="middle">枣庄市</text>
<text class="num" transform="translate(259.05,644.6) scale(0.94,1)" x="-21.06 -10.53 0.00 7.98 21.06" y="0" text-anchor="middle">145.2</text>
<text class="num" transform="translate(449.40,644.6) scale(0.94,1)" x="-15.80 -7.82 5.27" y="0" text-anchor="middle">1.2</text><text class="num" transform="translate(464.25,644.6) scale(0.62,1)" x="0" y="0" text-anchor="middle">%</text>
<text class="num" transform="translate(634.90,644.6) scale(0.94,1)" x="-15.80 -5.27 2.71 15.80" y="0" text-anchor="middle">88.9</text>
<text class="num" transform="translate(834.25,644.6) scale(0.94,1)" x="-21.06 -10.53 -2.55 10.53" y="0" text-anchor="middle">70.3</text><text class="num" transform="translate(854.05,644.6) scale(0.62,1)" x="0" y="0" text-anchor="middle">%</text>
<text class="num" transform="translate(985.60,644.6) scale(0.94,1)" x="-21.06 -10.53 -2.55 10.53" y="0" text-anchor="middle">59.2</text><text class="num" transform="translate(1005.40,644.6) scale(0.62,1)" x="0" y="0" text-anchor="middle">%</text>
<text class="rg" x="76.4" y="680.0" text-anchor="middle">日照市</text>
<text class="num" transform="translate(259.05,679.9) scale(0.94,1)" x="-21.06 -10.53 0.00 7.98 21.06" y="0" text-anchor="middle">141.3</text>
<text class="num" transform="translate(449.40,679.9) scale(0.94,1)" x="-21.06 -10.53 -2.55 10.53" y="0" text-anchor="middle">12.3</text><text class="num" transform="translate(469.20,679.9) scale(0.62,1)" x="0" y="0" text-anchor="middle">%</text>
<text class="num" transform="translate(634.90,679.9) scale(0.94,1)" x="-21.06 -10.53 0.00 7.98 21.06" y="0" text-anchor="middle">104.6</text>
<text class="num" transform="translate(834.25,679.9) scale(0.94,1)" x="-21.06 -10.53 -2.55 10.53" y="0" text-anchor="middle">81.6</text><text class="num" transform="translate(854.05,679.9) scale(0.62,1)" x="0" y="0" text-anchor="middle">%</text>
<text class="num" transform="translate(985.60,679.9) scale(0.94,1)" x="-21.06 -10.53 -2.55 10.53" y="0" text-anchor="middle">60.8</text><text class="num" transform="translate(1005.40,679.9) scale(0.62,1)" x="0" y="0" text-anchor="middle">%</text>
<text class="rg" x="76.4" y="715.0" text-anchor="middle">莱芜市</text>
<text class="num" transform="translate(259.05,714.9) scale(0.94,1)" x="-15.80 -5.27 2.71 15.80" y="0" text-anchor="middle">56.0</text>
<text class="num" transform="translate(449.40,714.9) scale(0.94,1)" x="-21.06 -10.53 -2.55 10.53" y="0" text-anchor="middle">10.2</text><text class="num" transform="translate(469.20,714.9) scale(0.62,1)" x="0" y="0" text-anchor="middle">%</text>
<text class="num" transform="translate(634.90,714.9) scale(0.94,1)" x="-15.80 -5.27 2.71 15.80" y="0" text-anchor="middle">15.7</text>
<text class="num" transform="translate(834.25,714.9) scale(0.94,1)" x="-21.06 -10.53 -2.55 10.53" y="0" text-anchor="middle">77.5</text><text class="num" transform="translate(854.05,714.9) scale(0.62,1)" x="0" y="0" text-anchor="middle">%</text>
<text class="num" transform="translate(985.60,714.9) scale(0.94,1)" x="-21.06 -10.53 -2.55 10.53" y="0" text-anchor="middle">63.1</text><text class="num" transform="translate(1005.40,714.9) scale(0.62,1)" x="0" y="0" text-anchor="middle">%</text>
<rect x="2.5" y="738" width="1056.5" height="4.8" fill="#0a3c8a"/><rect x="1058" y="738" width="17" height="1.9" fill="#0a2c62"/>
<text x="21" y="772.5" font-size="20" font-style="italic" font-weight="500" fill="#25509c" font-family="'Liberation Serif','Noto Serif CJK SC',serif" textLength="706" lengthAdjust="spacing">资料来源：各地级市财政决算报告，各地级市预算执行报告，国盛证券研究所</text>
</svg></body></html>
